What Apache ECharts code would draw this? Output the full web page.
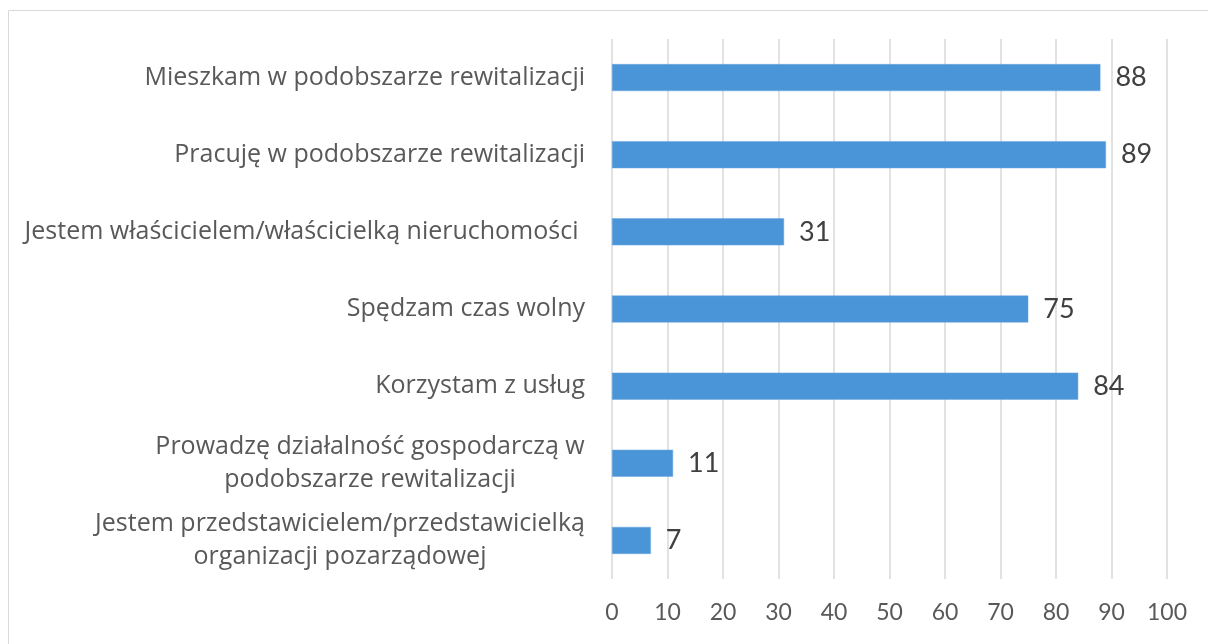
<!DOCTYPE html>
<html>
<head>
<meta charset="utf-8">
<script src="https://cdn.jsdelivr.net/npm/echarts@6/dist/echarts.min.js"></script>
<style>
html,body{margin:0;padding:0;background:#fff;}
#chart{width:1208px;height:644px;}
</style>
</head>
<body>
<div id="chart"></div>
<script>
const categories = [
  "Mieszkam w podobszarze rewitalizacji",
  "Pracuję w podobszarze rewitalizacji",
  "Jestem właścicielem/właścicielką nieruchomości ",
  "Spędzam czas wolny",
  "Korzystam z usług",
  "Prowadzę działalność gospodarczą w\npodobszarze rewitalizacji",
  "Jestem przedstawicielem/przedstawicielką\norganizacji pozarządowej"
];
const values = [88, 89, 31, 75, 84, 11, 7];
const xTicks = [0, 10, 20, 30, 40, 50, 60, 70, 80, 90, 100];

const NUM_FONT = "Lato";
const CAT_FONT = "Open Sans";
const CAT_SIZE = 25;

// measure multi-line label widths so lines can be centred within their block
const cv = document.createElement("canvas").getContext("2d");
cv.font = CAT_SIZE + "px '" + CAT_FONT + "'";
const rich = {};
const keyOf = {};
categories.forEach((c, i) => {
  if (c.indexOf("\n") >= 0) {
    const w = Math.max(...c.split("\n").map(l => cv.measureText(l).width));
    const k = "c" + i;
    keyOf[c] = k;
    rich[k] = { width: Math.ceil(w), align: "center", fontFamily: CAT_FONT, fontSize: CAT_SIZE, color: "#595959", lineHeight: 33 };
  }
});

const chart = echarts.init(document.getElementById("chart"), null, { renderer: "canvas" });
chart.setOption({
  animation: false,
  backgroundColor: "#fff",
  textStyle: { fontFamily: CAT_FONT },
  graphic: [{
    type: "rect",
    shape: { x: 8.5, y: 10.5, width: 1400, height: 800 },
    style: { fill: "none", stroke: "#d9d9d9", lineWidth: 1 },
    silent: true
  }],
  grid: { left: 612, right: 41, top: 39, bottom: 65, containLabel: false },
  xAxis: {
    type: "value",
    min: xTicks[0],
    max: xTicks[xTicks.length - 1],
    interval: 10,
    axisLine: { show: false },
    axisTick: { show: false },
    splitLine: { show: true, lineStyle: { color: "#d9d9d9", width: 1.5 } },
    axisLabel: { color: "#595959", fontSize: 23, fontFamily: NUM_FONT, margin: 22 }
  },
  yAxis: {
    type: "category",
    inverse: true,
    data: categories,
    axisLine: { show: false },
    axisTick: { show: false },
    splitLine: { show: false },
    axisLabel: {
      color: "#595959",
      fontSize: CAT_SIZE,
      fontFamily: CAT_FONT,
      margin: 27,
      lineHeight: 33,
      align: "right",
      rich: rich,
      formatter: function (v) {
        const k = keyOf[v];
        if (!k) return v;
        return v.split("\n").map(l => "{" + k + "|" + l + "}").join("\n");
      }
    }
  },
  series: [{
    type: "bar",
    data: values,
    barWidth: 27,
    itemStyle: { color: "#4a94d8", borderColor: "#6aa6de", borderWidth: 0.5 },
    label: {
      show: true,
      position: "right",
      distance: 15,
      color: "#404040",
      fontSize: 27,
      fontFamily: NUM_FONT
    }
  }]
});
</script>
</body>
</html>
